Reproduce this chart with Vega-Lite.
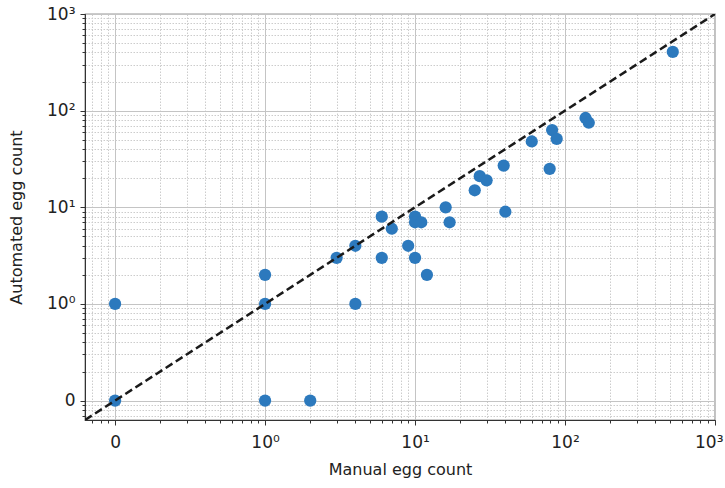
{
  "$schema": "https://vega.github.io/schema/vega-lite/v6.json",
  "autosize": {"type": "none"},
  "width": 630,
  "height": 406,
  "padding": {"left": 85, "top": 14, "right": 10, "bottom": 68},
  "background": "white",
  "config": {
    "font": "DejaVu Sans",
    "view": {"stroke": "#333333", "strokeWidth": 1.2},
    "axis": {"labelFont": "DejaVu Sans", "titleFont": "DejaVu Sans", "labelColor": "#222222", "titleColor": "#222222", "titleFontWeight": "normal"}
  },
  "layer": [
    {
      "data": {"values": [
        {"manual": 0.1, "automated": 0.1},
        {"manual": 0.1, "automated": 1},
        {"manual": 1, "automated": 2},
        {"manual": 1, "automated": 1},
        {"manual": 1, "automated": 0.1},
        {"manual": 2, "automated": 0.1},
        {"manual": 3, "automated": 3},
        {"manual": 4, "automated": 4},
        {"manual": 4, "automated": 1},
        {"manual": 6, "automated": 8},
        {"manual": 6, "automated": 3},
        {"manual": 7, "automated": 6},
        {"manual": 9, "automated": 4},
        {"manual": 10, "automated": 3},
        {"manual": 12, "automated": 2},
        {"manual": 10, "automated": 8},
        {"manual": 10, "automated": 7},
        {"manual": 11, "automated": 7},
        {"manual": 16, "automated": 10},
        {"manual": 17, "automated": 7},
        {"manual": 25, "automated": 15},
        {"manual": 27, "automated": 21},
        {"manual": 30, "automated": 19},
        {"manual": 39, "automated": 27},
        {"manual": 40, "automated": 9},
        {"manual": 60, "automated": 48},
        {"manual": 79, "automated": 25},
        {"manual": 82, "automated": 63},
        {"manual": 88, "automated": 51},
        {"manual": 137, "automated": 84},
        {"manual": 144, "automated": 75},
        {"manual": 523, "automated": 405}
      ]},
      "mark": {"type": "circle", "size": 150, "color": "#2c79bd", "opacity": 1},
      "encoding": {
        "x": {"field": "manual", "type": "quantitative",
          "scale": {"type": "log", "domain": [0.063, 1000], "nice": false},
          "axis": {"orient": "bottom", "values": [0.1, 1, 10, 100, 1000],
            "labelExpr": "datum.value == 0.1 ? '0' : datum.value == 1 ? '10⁰' : datum.value == 10 ? '10¹' : datum.value == 100 ? '10²' : '10³'",
            "title": "Manual egg count", "titleFontSize": 16, "labelFontSize": 17, "titlePadding": 11,
            "tickSize": 5, "tickColor": "#333333", "labelPadding": 9, "labelFlush": true, "labelFlushOffset": 8, "labelOverlap": false,
            "domainColor": "#333333", "grid": true, "gridColor": "#c4c4c4", "gridWidth": 1}},
        "y": {"field": "automated", "type": "quantitative",
          "scale": {"type": "log", "domain": [0.063, 1000], "nice": false},
          "axis": {"orient": "left", "values": [0.1, 1, 10, 100, 1000],
            "labelExpr": "datum.value == 0.1 ? '0' : datum.value == 1 ? '10⁰' : datum.value == 10 ? '10¹' : datum.value == 100 ? '10²' : '10³'",
            "title": "Automated egg count", "titleFontSize": 16, "labelFontSize": 17, "titlePadding": 22,
            "tickSize": 5, "tickColor": "#333333", "labelPadding": 5, "labelFlush": false, "labelOverlap": false,
            "domainColor": "#333333", "grid": true, "gridColor": "#c4c4c4", "gridWidth": 1}}
      }
    },
    {
      "data": {"values": [
        {"manual": 0.063, "automated": 0.063},
        {"manual": 1000, "automated": 1000}
      ]},
      "mark": {"type": "line", "color": "#1a1a1a", "strokeWidth": 2.5, "strokeDash": [8, 4], "clip": true},
      "encoding": {
        "x": {"field": "manual", "type": "quantitative",
          "scale": {"type": "log", "domain": [0.063, 1000], "nice": false},
          "axis": {"orient": "bottom", "values": [0.07, 0.08, 0.09, 0.2, 0.3, 0.4, 0.5, 0.6, 0.7, 0.8, 0.9, 2, 3, 4, 5, 6, 7, 8, 9, 20, 30, 40, 50, 60, 70, 80, 90, 200, 300, 400, 500, 600, 700, 800, 900],
            "labels": false, "title": null, "domain": false, "tickSize": 3, "tickColor": "#333333",
            "grid": true, "gridColor": "#cccccc", "gridDash": [1.5, 1.5], "gridWidth": 1}},
        "y": {"field": "automated", "type": "quantitative",
          "scale": {"type": "log", "domain": [0.063, 1000], "nice": false},
          "axis": {"orient": "left", "values": [0.07, 0.08, 0.09, 0.2, 0.3, 0.4, 0.5, 0.6, 0.7, 0.8, 0.9, 2, 3, 4, 5, 6, 7, 8, 9, 20, 30, 40, 50, 60, 70, 80, 90, 200, 300, 400, 500, 600, 700, 800, 900],
            "labels": false, "title": null, "domain": false, "tickSize": 3, "tickColor": "#333333",
            "grid": true, "gridColor": "#cccccc", "gridDash": [1.5, 1.5], "gridWidth": 1}}
      }
    }
  ],
  "resolve": {"axis": {"x": "independent", "y": "independent"}}
}
